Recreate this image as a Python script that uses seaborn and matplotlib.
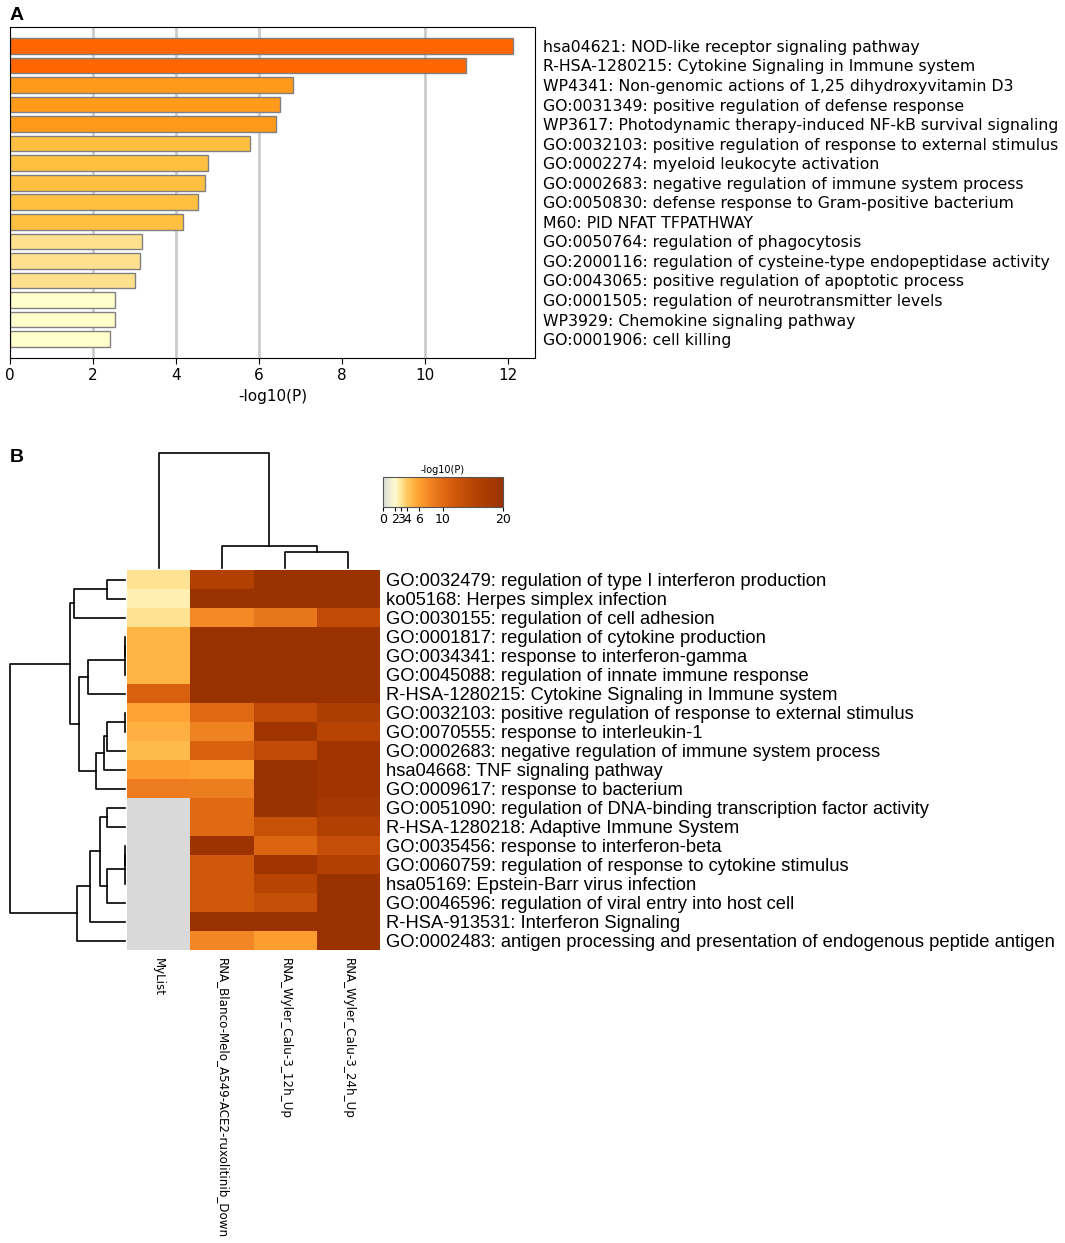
import matplotlib
matplotlib.use('Agg')
import matplotlib.pyplot as plt
import seaborn as sns
import pandas as pd
import numpy as np
from matplotlib.colors import LinearSegmentedColormap

# ---- panel A: enrichment bar chart ----
bar_terms = [
    'hsa04621: NOD-like receptor signaling pathway',
    'R-HSA-1280215: Cytokine Signaling in Immune system',
    'WP4341: Non-genomic actions of 1,25 dihydroxyvitamin D3',
    'GO:0031349: positive regulation of defense response',
    'WP3617: Photodynamic therapy-induced NF-kB survival signaling',
    'GO:0032103: positive regulation of response to external stimulus',
    'GO:0002274: myeloid leukocyte activation',
    'GO:0002683: negative regulation of immune system process',
    'GO:0050830: defense response to Gram-positive bacterium',
    'M60: PID NFAT TFPATHWAY',
    'GO:0050764: regulation of phagocytosis',
    'GO:2000116: regulation of cysteine-type endopeptidase activity',
    'GO:0043065: positive regulation of apoptotic process',
    'GO:0001505: regulation of neurotransmitter levels',
    'WP3929: Chemokine signaling pathway',
    'GO:0001906: cell killing',
]
bar_values = [12.11, 10.99, 6.81, 6.51, 6.40, 5.79, 4.78, 4.71, 4.53, 4.18,
              3.18, 3.13, 3.01, 2.53, 2.53, 2.41]

# ---- panel B: heatmap ----
heat_rows = [
    'GO:0032479: regulation of type I interferon production',
    'ko05168: Herpes simplex infection',
    'GO:0030155: regulation of cell adhesion',
    'GO:0001817: regulation of cytokine production',
    'GO:0034341: response to interferon-gamma',
    'GO:0045088: regulation of innate immune response',
    'R-HSA-1280215: Cytokine Signaling in Immune system',
    'GO:0032103: positive regulation of response to external stimulus',
    'GO:0070555: response to interleukin-1',
    'GO:0002683: negative regulation of immune system process',
    'hsa04668: TNF signaling pathway',
    'GO:0009617: response to bacterium',
    'GO:0051090: regulation of DNA-binding transcription factor activity',
    'R-HSA-1280218: Adaptive Immune System',
    'GO:0035456: response to interferon-beta',
    'GO:0060759: regulation of response to cytokine stimulus',
    'hsa05169: Epstein-Barr virus infection',
    'GO:0046596: regulation of viral entry into host cell',
    'R-HSA-913531: Interferon Signaling',
    'GO:0002483: antigen processing and presentation of endogenous peptide antigen',
]
heat_cols = ['MyList', 'RNA_Blanco-Melo_A549-ACE2-ruxolitinib_Down',
             'RNA_Wyler_Calu-3_12h_Up', 'RNA_Wyler_Calu-3_24h_Up']
mylist = [3.1, 2.5, 3.1, 5.0, 5.0, 5.0, 11.0, 5.8, 5.2, 4.7,
          6.3, 8.5, 0, 0, 0, 0, 0, 0, 0, 0]
blanco = [16, 20, 7.5, 20, 20, 20, 20, 10, 8, 11,
          6, 8.3, 10, 10, 19.5, 12, 12, 12, 20, 7.8]
wyler_12h = [20, 20, 9, 20, 20, 20, 20, 14, 19, 14,
             20, 20, 20, 13, 10.5, 19, 15, 13.5, 20, 6.2]
wyler_24h = [20, 20, 14, 20, 20, 20, 20, 17, 15, 19,
             19, 19, 18, 16, 13.5, 16, 20, 20, 20, 20]

# dendrogram merges (child a, child b, height); new clusters numbered after leaves
row_merges = [
    (3, 4, 0.0), (20, 5, 0.0), (7, 8, 0.0), (14, 15, 0.0), (23, 16, 0.0),
    (0, 1, 0.158), (22, 9, 0.158), (12, 13, 0.158), (24, 17, 0.158),
    (26, 10, 0.184), (27, 28, 0.219), (29, 11, 0.254), (30, 18, 0.307),
    (21, 6, 0.325), (33, 31, 0.404), (32, 19, 0.421), (25, 2, 0.447),
    (36, 34, 0.482), (37, 35, 1.0),
]
col_merges = [(2, 3, 0.137), (1, 4, 0.188), (0, 5, 1.0)]

cbar_ticks = [0, 2, 3, 4, 6, 10, 20]

W, H = 1065, 1243


def box(x0, y0, x1, y1):
    return [x0 / W, 1 - y1 / H, (x1 - x0) / W, (y1 - y0) / H]


def draw_dendrogram(ax, merges, n_leaves, orient):
    pos = {i: i + 0.5 for i in range(n_leaves)}
    hgt = {i: 0.0 for i in range(n_leaves)}
    for k, (a, b, h) in enumerate(merges):
        hs = [hgt[a], h, h, hgt[b]]
        ps = [pos[a], pos[a], pos[b], pos[b]]
        if orient == 'left':
            ax.plot(hs, ps, color='black', lw=1.2, clip_on=False)
        else:
            ax.plot(ps, hs, color='black', lw=1.2, clip_on=False)
        pos[n_leaves + k] = (pos[a] + pos[b]) / 2
        hgt[n_leaves + k] = h
    ax.axis('off')


fig = plt.figure(figsize=(W / 100, H / 100), dpi=100)

# panel A
bar_df = pd.DataFrame({'term': bar_terms, 'value': bar_values})
bin_colors = ['#ffffcc', '#ffe08c', '#ffbf40', '#ff9a1a', '#ff6600']
bar_colors = [bin_colors[i] for i in np.digitize(bar_values, [3, 4, 6, 10])]

ax_bar = fig.add_axes(box(10, 27, 535, 358))
for v in [2, 4, 6, 10]:
    ax_bar.axvline(v, color='#cccccc', lw=2, zorder=0)
sns.barplot(data=bar_df, x='value', y='term', hue='term', palette=bar_colors,
            legend=False, orient='h', width=0.8, edgecolor='#808080',
            linewidth=1, saturation=1, ax=ax_bar, zorder=2)
ax_bar.set_xlim(0, 12.65)
ax_bar.set_ylim(15.97, -0.97)
ax_bar.set_xticks(range(0, 13, 2))
ax_bar.yaxis.tick_right()
ax_bar.tick_params(axis='y', length=0, pad=6, labelsize=11.35)
ax_bar.tick_params(axis='x', labelsize=11, length=4)
ax_bar.set_ylabel('')
ax_bar.set_xlabel('-log10(P)', fontsize=11, labelpad=4)

# panel B
heat_df = pd.DataFrame({heat_cols[0]: mylist, heat_cols[1]: blanco,
                        heat_cols[2]: wyler_12h, heat_cols[3]: wyler_24h},
                       index=heat_rows)
cmap = LinearSegmentedColormap.from_list('mscape', [
    (0.0, '#d9d9d9'), (0.1, '#fffbd0'), (0.15, '#ffe596'), (0.2, '#ffc95e'),
    (0.25, '#ffb444'), (0.3, '#ffa030'), (0.4, '#f08222'), (0.5, '#e06a14'),
    (0.6, '#d0580a'), (0.75, '#b84404'), (1.0, '#9a3200')])

ax_heat = fig.add_axes(box(127, 570, 380, 950))
ax_cb = fig.add_axes(box(383, 477, 503, 507))
sns.heatmap(heat_df, ax=ax_heat, cmap=cmap, vmin=0, vmax=20,
            cbar_ax=ax_cb, cbar_kws={'orientation': 'horizontal', 'ticks': cbar_ticks},
            xticklabels=True, yticklabels=True)
ax_heat.yaxis.tick_right()
ax_heat.set_yticklabels(heat_rows, rotation=0, fontsize=13.2, family='Liberation Sans')
ax_heat.set_xticklabels(heat_cols, rotation=270, fontsize=8.6, va='top', ha='center')
ax_heat.tick_params(axis='y', length=0, pad=4)
ax_heat.tick_params(axis='x', length=0, pad=6)
ax_heat.set_xlabel('')
ax_heat.set_ylabel('')

ax_cb.tick_params(labelsize=9, length=3, width=0.8, pad=1)
ax_cb.set_title('-log10(P)', fontsize=7, pad=3)
ax_heat.collections[0].colorbar.outline.set_edgecolor('#555555')
ax_heat.collections[0].colorbar.outline.set_linewidth(0.8)

ax_rd = fig.add_axes(box(10, 570, 125, 950))
draw_dendrogram(ax_rd, row_merges, len(heat_rows), 'left')
ax_rd.set_xlim(1.0, 0)
ax_rd.set_ylim(len(heat_rows), 0)

ax_cd = fig.add_axes(box(127, 453, 380, 568))
draw_dendrogram(ax_cd, col_merges, len(heat_cols), 'top')
ax_cd.set_xlim(0, len(heat_cols))
ax_cd.set_ylim(0, 1.0)

fig.text(10 / W, 1 - 15 / H, 'A', fontsize=14, weight='bold', va='center',
         family='Liberation Sans')
fig.text(10 / W, 1 - 458 / H, 'B', fontsize=14, weight='bold', va='center',
         family='Liberation Sans')

fig.savefig('out.png', dpi=100)
